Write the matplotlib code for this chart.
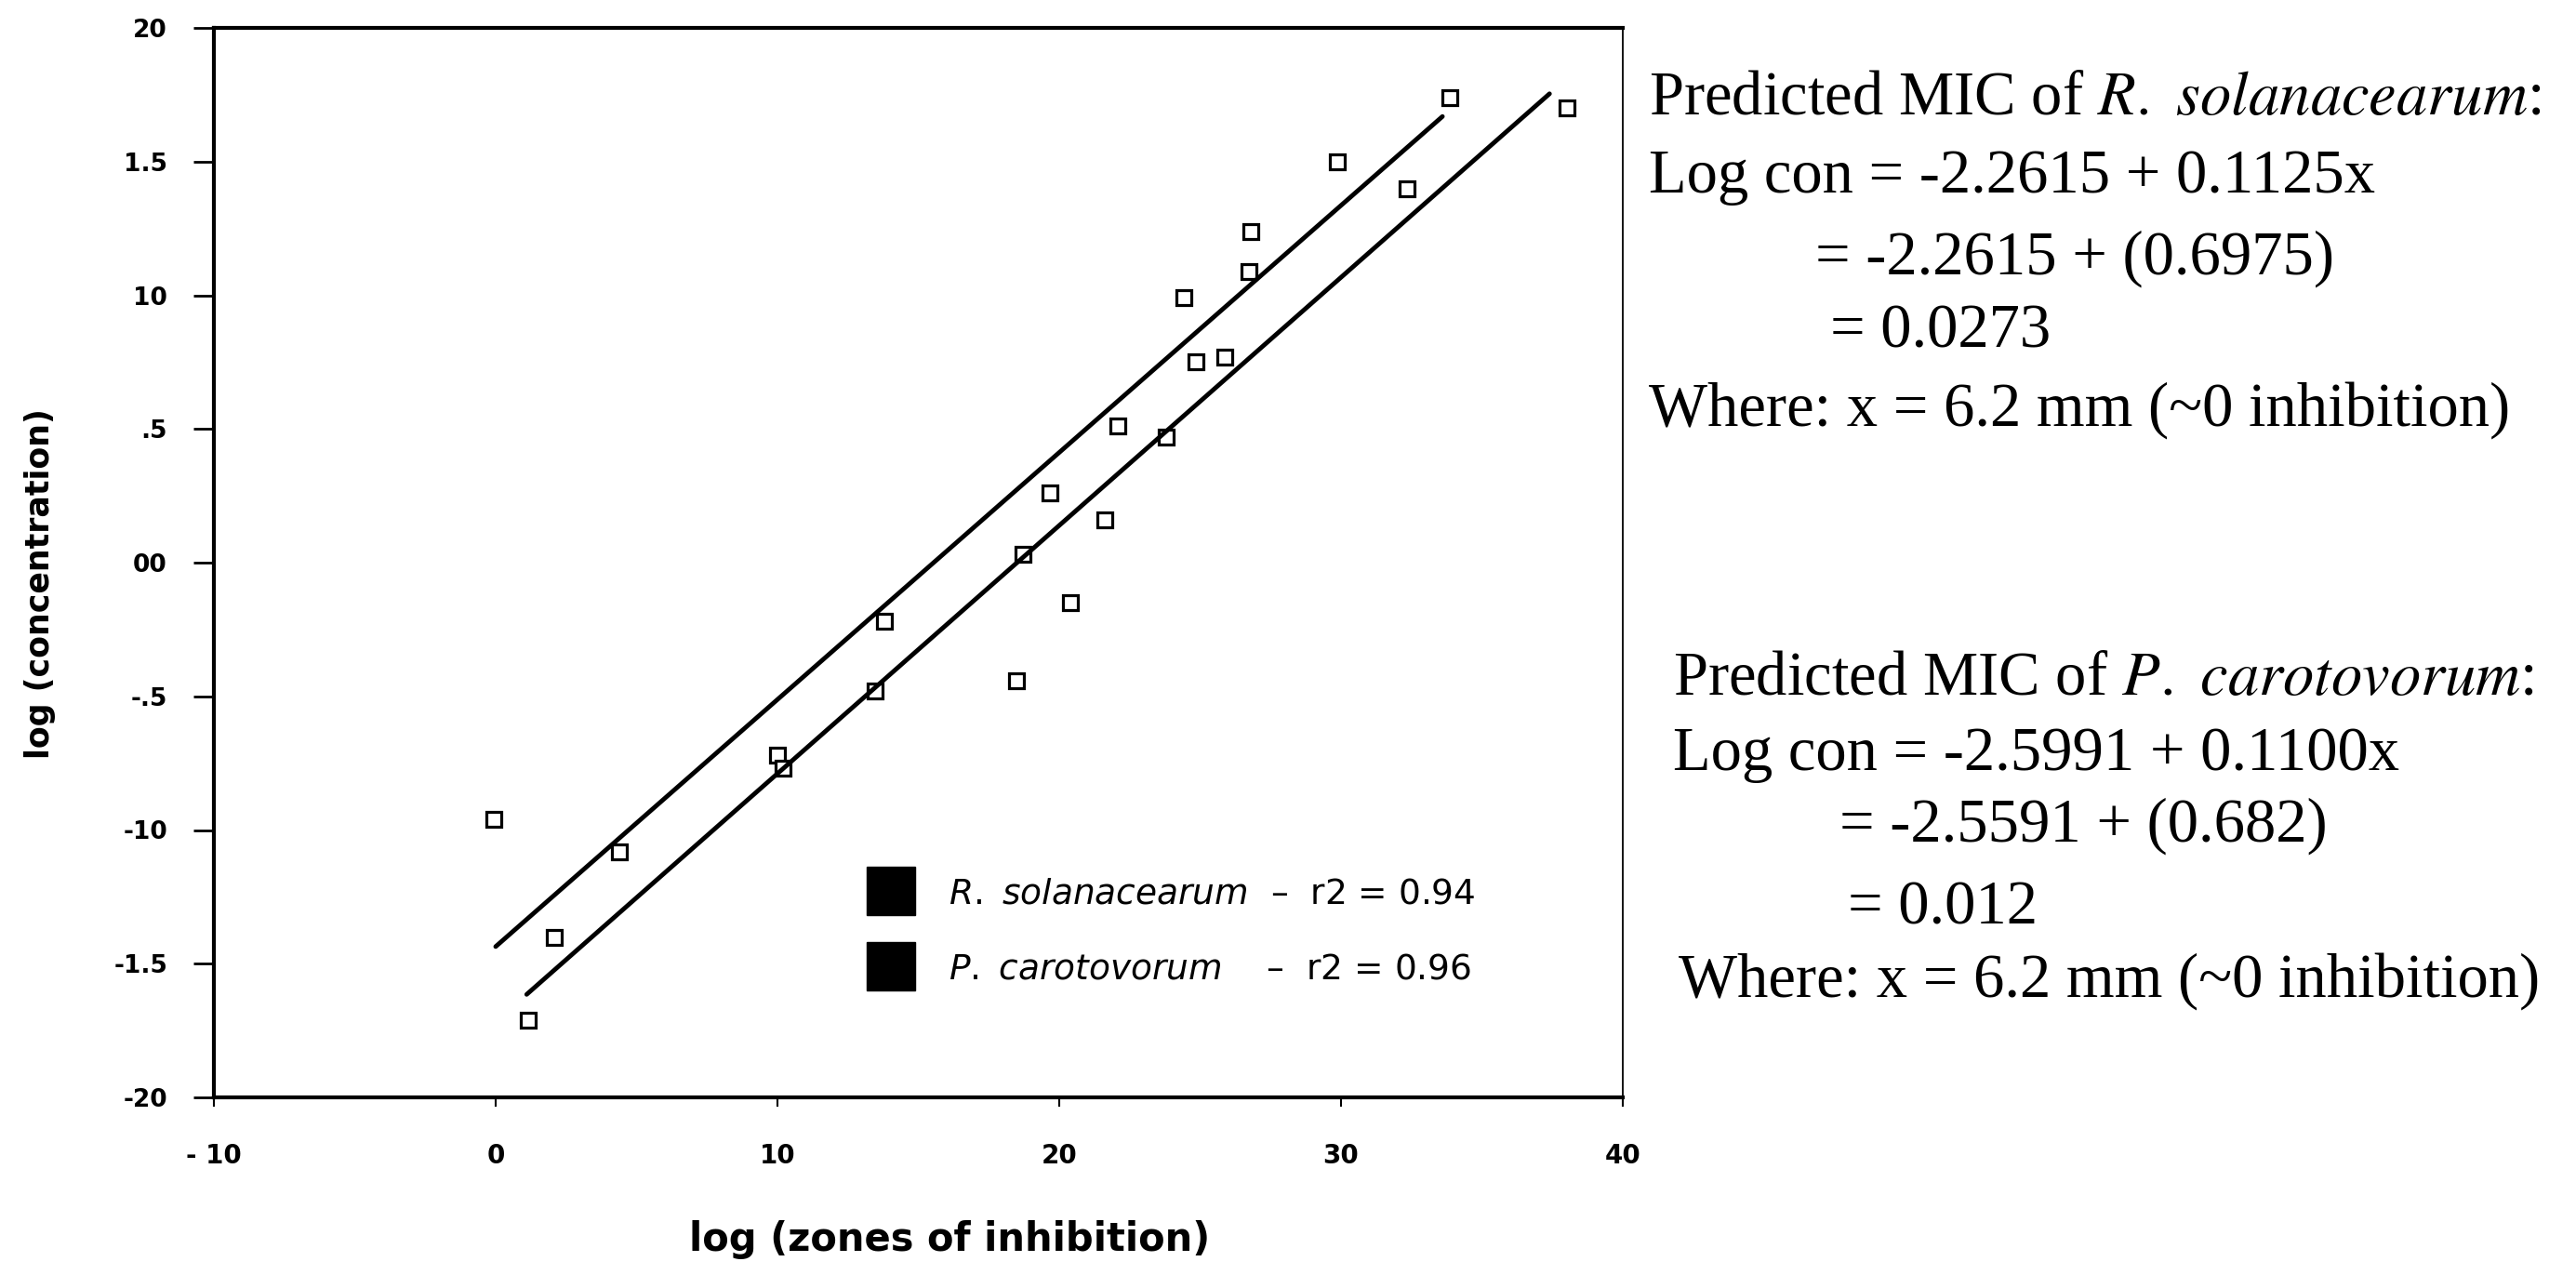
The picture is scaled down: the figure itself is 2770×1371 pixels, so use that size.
import matplotlib
matplotlib.use("Agg")
import matplotlib.pyplot as plt
from matplotlib.lines import Line2D
import numpy as np

# points (both series use the same open square)
r_x = [-0.07, 4.39, 13.78, 19.67, 33.85, 29.88, 26.80, 26.73, 24.42, 24.85, 22.08]
r_y = [-0.96, -1.08, -0.22, 0.26, 1.74, 1.50, 1.24, 1.09, 0.99, 0.75, 0.51]
p_x = [2.09, 1.14, 10.0, 10.2, 13.45, 18.71, 20.40, 18.49, 38.01, 32.33, 25.88, 23.78, 21.62]
p_y = [-1.40, -1.71, -0.72, -0.77, -0.48, 0.03, -0.15, -0.44, 1.70, 1.40, 0.77, 0.47, 0.16]

# regression lines as drawn (intercept, slope) and their x extent
r_fit = (-1.436, 0.0924)
p_fit = (-1.717, 0.0928)
r_span = (0.0, 33.6)
p_span = (1.1, 37.4)

x_ticks = [-10, 0, 10, 20, 30, 40]
x_tick_labels = ['- 10', '0', '10', '20', '30', '40']
y_ticks = [2.0, 1.5, 1.0, 0.5, 0.0, -0.5, -1.0, -1.5, -2.0]
y_tick_labels = ['20', '1.5', '10', '.5', '00', '-.5', '-10', '-1.5', '-20']

legend_labels = [r'$\mathit{R.}$ $\mathit{solanacearum}$  –  r2 = 0.94',
                 r'$\mathit{P.}$ $\mathit{carotovorum}$    –  r2 = 0.96']

mic_r = ['Predicted MIC of $\\mathit{R.}$ $\\mathit{solanacearum}$:',
         'Log con = -2.2615 + 0.1125x',
         '= -2.2615 + (0.6975)',
         '= 0.0273',
         'Where: x = 6.2 mm (~0 inhibition)']
mic_p = ['Predicted MIC of $\\mathit{P.}$ $\\mathit{carotovorum}$:',
         'Log con = -2.5991 + 0.1100x',
         '= -2.5591 + (0.682)',
         '= 0.012',
         'Where: x = 6.2 mm (~0 inhibition)']

W, H = 2770, 1371
fig = plt.figure(figsize=(W / 100, H / 100), dpi=100)
fig.patch.set_facecolor('white')
ax = fig.add_axes([230 / W, 1 - 1180 / H, 1515 / W, 1150 / H])

mk = dict(marker='s', ms=11, mfc='white', mec='black', mew=2.3, ls='none')
ax.plot(r_x, r_y, **mk)
ax.plot(p_x, p_y, **mk)

for fit, span in [(r_fit, r_span), (p_fit, p_span)]:
    xs = np.array(span)
    ax.plot(xs, fit[0] + fit[1] * xs, color='black', lw=3.5, solid_capstyle='round')

ax.set_xlim(-10, 40)
ax.set_ylim(-2, 2)
ax.set_xticks(x_ticks)
ax.set_xticklabels(x_tick_labels, fontweight='bold')
ax.set_yticks(y_ticks)
ax.set_yticklabels(y_tick_labels, fontweight='bold')
ax.tick_params(axis='y', direction='out', length=16, width=2, pad=20, labelsize=19)
ax.tick_params(axis='x', direction='out', length=7, width=1.5, pad=28, labelsize=20)

for side in ['left', 'bottom', 'top']:
    ax.spines[side].set_linewidth(3)
ax.spines['right'].set_linewidth(1.3)

ax.set_ylabel('log (concentration)', fontsize=25, fontweight='bold')
ax.yaxis.set_label_coords(-0.112, 0.48)
ax.set_xlabel('log (zones of inhibition)', fontsize=30, fontweight='bold')
ax.xaxis.set_label_coords(0.522, -0.115)

handles = [Line2D([], [], marker='s', ms=38, color='black', ls='none') for _ in legend_labels]
ax.legend(handles, legend_labels, loc='center left', bbox_to_anchor=(0.462, 0.155),
          frameon=False, fontsize=27, handlelength=1.5, handletextpad=0.9,
          labelspacing=1.2, borderpad=0, borderaxespad=0)

# text block on the right
txt = dict(fontfamily='Liberation Serif', fontsize=48, math_fontfamily='stix', va='baseline')
r_pos = [(1773, 123), (1773, 207), (1952, 295), (1968, 373), (1773, 458)]
p_pos = [(1799, 747), (1799, 828), (1978, 905), (1987, 993), (1805, 1072)]
for lines, pos in [(mic_r, r_pos), (mic_p, p_pos)]:
    for s, (px, py) in zip(lines, pos):
        fig.text(px / W, 1 - py / H, s, **txt)

fig.savefig('out.png', dpi=100, facecolor='white')
